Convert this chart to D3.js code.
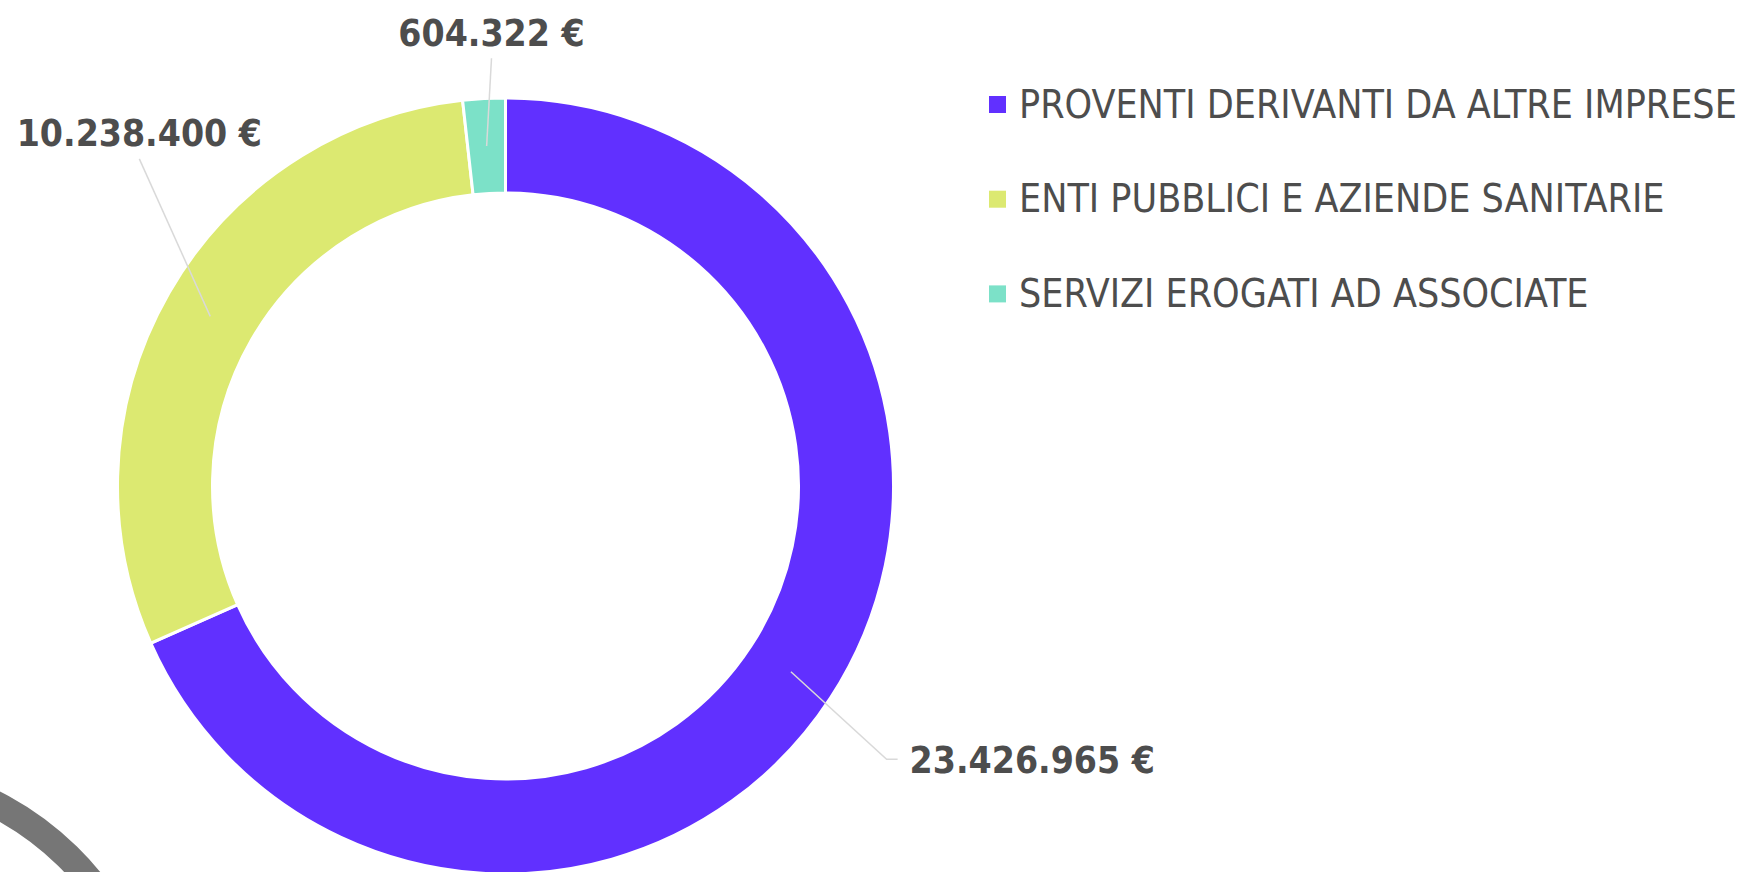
<!DOCTYPE html>
<html>
<head>
<meta charset="utf-8">
<script src="https://cdn.jsdelivr.net/npm/d3@7"></script>
<style>
  body { margin: 0; background: #fff; }
  svg { display: block; }
  .lbl { font-family: "DejaVu Sans"; font-stretch: condensed; font-weight: bold; fill: #4d4d4d; }
  .leg { font-family: "DejaVu Sans"; font-stretch: condensed; fill: #4d4d4d; }
</style>
</head>
<body>
<svg id="chart" width="1744" height="872"></svg>
<script>
var categories = ["PROVENTI DERIVANTI DA ALTRE IMPRESE", "ENTI PUBBLICI E AZIENDE SANITARIE", "SERVIZI EROGATI AD ASSOCIATE"];
var values = [23426965, 10238400, 604322];
var labels = ["23.426.965 €", "10.238.400 €", "604.322 €"];
var colors = ["#6130ff", "#dce971", "#7ce1c8"];

var svg = d3.select("#chart");
var cx = 505.5, cy = 486;
var outerR = 388, innerR = 293;

// grey ring peeking in at bottom-left (decoration)
svg.append("path")
  .attr("transform", "translate(-140,1068)")
  .attr("d", d3.arc().innerRadius(283).outerRadius(310).startAngle(-0.6).endAngle(1.6)())
  .attr("fill", "#767676");

var pie = d3.pie().sort(null).value(function(d){ return d; });
var arcs = pie(values);

var arc = d3.arc().innerRadius(innerR).outerRadius(outerR);
var mid = d3.arc().innerRadius((innerR+outerR)/2).outerRadius((innerR+outerR)/2);

var g = svg.append("g").attr("transform", "translate(" + cx + "," + cy + ")");

g.selectAll("path.slice").data(arcs).enter().append("path")
  .attr("class", "slice")
  .attr("d", arc)
  .attr("fill", function(d, i){ return colors[i]; })
  .attr("stroke", "#fff")
  .attr("stroke-width", 3);

// label placement: leader end radius, angle tweak (deg), text side
var place = [
  {r: 469, da: 2.6, side: "right"},
  {r: 491, da: 11.9, side: "top"},
  {r: 428, da: 1.3, side: "top"}
];

arcs.forEach(function(d, i){
  var p = place[i];
  var a = (d.startAngle + d.endAngle) / 2;
  var start = mid.centroid(d);
  var end = d3.pointRadial(a + p.da * Math.PI / 180, p.r);
  var pts = [start, end];
  var t;
  if (p.side === "right") {
    pts.push([end[0] + 11, end[1]]);
    t = g.append("text").attr("x", end[0] + 23).attr("y", end[1] + 14).attr("text-anchor", "start");
  } else {
    t = g.append("text").attr("x", end[0]).attr("y", end[1] - 12.5).attr("text-anchor", "middle");
  }
  g.append("path")
    .attr("d", d3.line()(pts))
    .attr("fill", "none")
    .attr("stroke", "#d9d9d9")
    .attr("stroke-width", 1.5);
  t.attr("class", "lbl").attr("font-size", 37).text(labels[i]);
});

// legend
var legend = svg.append("g").attr("transform", "translate(989,96)");
var rows = legend.selectAll("g").data(categories).enter().append("g")
  .attr("transform", function(d, i){ return "translate(0," + (i * 94.7) + ")"; });
rows.append("rect")
  .attr("width", 17).attr("height", 17)
  .attr("fill", function(d, i){ return colors[i]; });
rows.append("text")
  .attr("class", "leg")
  .attr("x", 30).attr("y", 21.5)
  .attr("font-size", 39)
  .text(function(d){ return d; });
</script>
</body>
</html>
